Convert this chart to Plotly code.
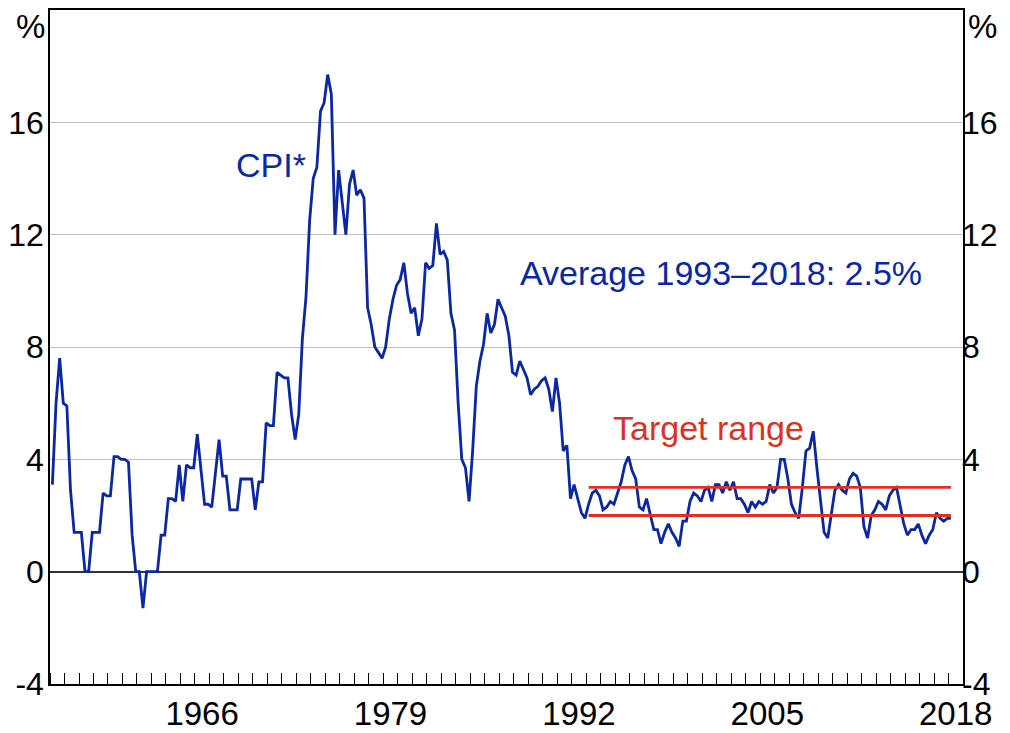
"""
plot.py

Year-ended CPI inflation with the 2-3 per cent target range.
"""

import pandas as pd
import plotly.graph_objects as go


# ==========================================================
# DATA
# ==========================================================

# Year-ended CPI inflation, per cent, quarterly from March 1956
cpi = [
    3.1, 6.0, 7.6, 6.0,      # 1956
    5.9, 2.9, 1.4, 1.4,
    1.4, 0.0, 0.0, 1.4,
    1.4, 1.4, 2.8, 2.7,
    2.7, 4.1, 4.1, 4.0,      # 1960
    4.0, 3.9, 1.3, 0.0,
    0.0, -1.3, 0.0, 0.0,
    0.0, 0.0, 1.3, 1.3,
    2.6, 2.6, 2.5, 3.8,
    2.5, 3.8, 3.7, 3.7,      # 1965
    4.9, 3.6, 2.4, 2.4,
    2.3, 3.5, 4.7, 3.4,
    3.4, 2.2, 2.2, 2.2,
    3.3, 3.3, 3.3, 3.3,
    2.2, 3.2, 3.2, 5.3,      # 1970
    5.2, 5.2, 7.1, 7.0,
    6.9, 6.9, 5.6, 4.7,
    5.6, 8.3, 9.8, 12.5,
    14.0, 14.4, 16.4, 16.7,
    17.7, 17.0, 12.0, 14.3,  # 1975
    13.2, 12.0, 13.8, 14.3,
    13.4, 13.6, 13.3, 9.4,
    8.8, 8.0, 7.8, 7.6,
    8.0, 9.0, 9.7, 10.2,
    10.4, 11.0, 9.9, 9.2,    # 1980
    9.4, 8.4, 9.0, 11.0,
    10.8, 10.9, 12.4, 11.3,
    11.4, 11.1, 9.2, 8.6,
    6.0, 4.0, 3.7, 2.5,
    4.3, 6.6, 7.5, 8.1,      # 1985
    9.2, 8.5, 8.8, 9.7,
    9.4, 9.1, 8.4, 7.1,
    7.0, 7.5, 7.2, 6.9,
    6.3, 6.5, 6.6, 6.8,
    6.9, 6.5, 5.7, 6.9,      # 1990
    6.0, 4.3, 4.5, 2.6,
    3.1, 2.6, 2.1, 1.9,
    2.4, 2.8, 2.9, 2.7,
    2.2, 2.3, 2.5, 2.4,
    2.8, 3.2, 3.8, 4.1,      # 1995
    3.6, 3.3, 2.3, 2.2,
    2.6, 2.1, 1.5, 1.5,
    1.0, 1.4, 1.7, 1.4,
    1.2, 0.9, 1.8, 1.8,
    2.5, 2.8, 2.7, 2.5,      # 2000
    2.9, 3.0, 2.5, 3.1,
    3.1, 2.8, 3.2, 2.9,
    3.2, 2.6, 2.6, 2.4,
    2.1, 2.5, 2.3, 2.5,
    2.4, 2.5, 3.1, 2.8,      # 2005
    3.0, 4.0, 4.0, 3.3,
    2.4, 2.1, 1.9, 3.0,
    4.3, 4.4, 5.0, 3.7,
    2.6, 1.4, 1.2, 2.1,
    2.9, 3.1, 2.9, 2.8,      # 2010
    3.3, 3.5, 3.4, 3.0,
    1.6, 1.2, 2.0, 2.2,
    2.5, 2.4, 2.2, 2.7,
    2.9, 3.0, 2.4, 1.7,
    1.3, 1.5, 1.5, 1.7,      # 2015
    1.3, 1.0, 1.3, 1.5,
    2.1, 1.9, 1.8, 1.9,
    1.9,                     # 2018
]

cpi_start = "1956-03-01"

# Target range, from March 1993 to March 2018
target_dates = ["1993-03-01", "2018-03-01"]
target_low = [2, 2]
target_high = [3, 3]

# Axis labels
year_labels = ["1966", "1979", "1992", "2005", "2018"]
y_ticks = [-4, 0, 4, 8, 12, 16]
y_tick_text = ["-4", "0", "4", "8", "12", "16"]

BLUE = "#0A27A6"
RED = "#E0301E"
FONT = "Arial, Liberation Sans, sans-serif"
TEXT_SIZE = 33


# ==========================================================
# FIGURE
# ==========================================================

dates = pd.date_range(start=cpi_start, periods=len(cpi), freq="3MS")

fig = go.Figure()

# target range lines
for band in (target_low, target_high):

    fig.add_trace(

        go.Scatter(
            x=target_dates,
            y=band,
            mode="lines",
            line=dict(color=RED, width=2.8),
            yaxis="y2",
            hoverinfo="skip"
        )

    )

# CPI line
fig.add_trace(

    go.Scatter(
        x=dates,
        y=cpi,
        mode="lines",
        name="CPI",
        line=dict(color=BLUE, width=2.8)
    )

)


# ==========================================================
# LAYOUT
# ==========================================================

label_dates = [f"{y}-07-01" for y in year_labels]

y_axis_common = dict(
    range=[-4, 20],
    tickvals=y_ticks,
    ticktext=y_tick_text,
    ticks="",
    ticklabelstandoff=-2,
    automargin=False,
    tickfont=dict(size=32, color="black"),
)

# the page body adds an 8px margin, so the figure is sized to fit the window
fig.update_layout(

    width=1002,
    height=725,
    margin=dict(l=42, r=47, t=2, b=49),
    paper_bgcolor="white",
    plot_bgcolor="white",
    showlegend=False,
    font=dict(family=FONT, size=TEXT_SIZE, color="black"),

    xaxis=dict(
        type="date",
        range=["1956-01-01", "2019-01-01"],
        tickvals=label_dates,
        ticktext=year_labels,
        ticks="",
        automargin=False,
        tickfont=dict(size=TEXT_SIZE, color="black"),
        showgrid=False,
        zeroline=False,
        showline=True,
        mirror=True,
        linecolor="black",
        linewidth=1.5,
        minor=dict(
            ticks="inside",
            ticklen=11,
            tickwidth=1,
            tickcolor="black",
            tick0="1956-01-01",
            dtick="M12",
            showgrid=False
        )
    ),

    yaxis=dict(
        **y_axis_common,
        showgrid=True,
        gridcolor="#C0C0C0",
        gridwidth=1,
        zeroline=True,
        zerolinecolor="#333333",
        zerolinewidth=1.5,
        showline=True,
        mirror=True,
        linecolor="black",
        linewidth=1.5
    ),

    yaxis2=dict(
        **y_axis_common,
        overlaying="y",
        side="right",
        showgrid=False,
        zeroline=False,
        showline=False
    )
)

# ----------------------------------------------------------
# Text labels
# ----------------------------------------------------------

for side, x, anchor in (("left", 0, "right"), ("right", 1, "left")):

    fig.add_annotation(
        text="%",
        xref="paper", x=x, xanchor=anchor,
        xshift=-3 if side == "left" else 3,
        yref="y", y=19.4, yanchor="middle",
        showarrow=False,
        font=dict(size=TEXT_SIZE, color="black")
    )


def add_label(text, cx, cy, color):
    """
    Place a text label centred on a pixel position of the page.
    """

    fig.add_annotation(
        text=text,
        xref="paper", x=(cx - 50) / 913, xanchor="center",
        yref="paper", y=(684 - cy) / 674, yanchor="middle",
        showarrow=False,
        font=dict(size=34, color=color)
    )


add_label("CPI*", 271, 165, BLUE)
add_label("Average 1993–2018: 2.5%", 721, 273, BLUE)
add_label("Target range", 708, 428, RED)

fig.write_html("out.html")
